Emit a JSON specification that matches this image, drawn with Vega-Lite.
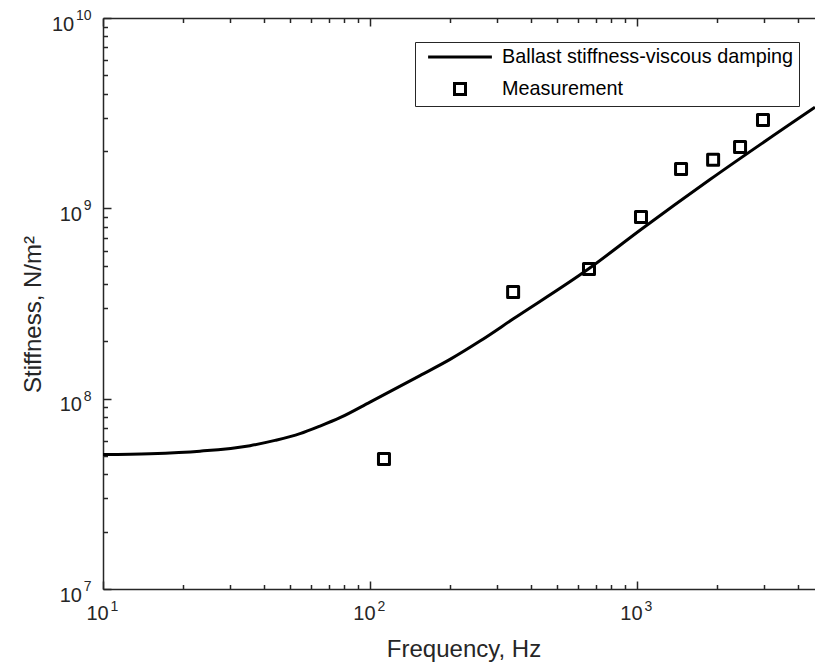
{
  "$schema": "https://vega.github.io/schema/vega-lite/v6.json",
  "width": 712,
  "height": 571,
  "autosize": {"type": "none"},
  "padding": {"left": 103, "top": 18, "right": 0, "bottom": 79},
  "background": "white",
  "config": {
    "view": {"stroke": null},
    "font": "Liberation Sans",
    "axis": {
      "domainColor": "#262626",
      "domainWidth": 1.5,
      "tickColor": "#262626",
      "tickWidth": 1.5,
      "labelColor": "#262626",
      "labelFont": "Liberation Sans",
      "labelFontSize": 20,
      "titleFont": "Liberation Sans",
      "titleFontSize": 24,
      "titleFontWeight": "normal",
      "titleColor": "#262626",
      "grid": false,
      "labelFlush": false,
      "labelOverlap": false
    }
  },
  "datasets": {
    "model": [
      {"f": 10, "k": 5.085e7},
      {"f": 15.0, "k": 5.141e7},
      {"f": 23.08, "k": 5.299e7},
      {"f": 35.53, "k": 5.662e7},
      {"f": 44.08, "k": 6.036e7},
      {"f": 54.68, "k": 6.548e7},
      {"f": 64.98, "k": 7.179e7},
      {"f": 77.2, "k": 7.946e7},
      {"f": 100, "k": 9.597e7},
      {"f": 153.9, "k": 1.3224e8},
      {"f": 199.4, "k": 1.6086e8},
      {"f": 258.2, "k": 2.0078e8},
      {"f": 343.2, "k": 2.62e8},
      {"f": 661.3, "k": 4.827e8},
      {"f": 1035.1, "k": 7.739e8},
      {"f": 1876.6, "k": 1.417e9},
      {"f": 4641.6, "k": 3.399e9}
    ],
    "meas": [
      {"f": 112.8, "k": 4.82e7},
      {"f": 343.6, "k": 3.63e8},
      {"f": 661, "k": 4.8e8},
      {"f": 1035, "k": 9.0e8},
      {"f": 1462, "k": 1.61e9},
      {"f": 1928, "k": 1.8e9},
      {"f": 2432, "k": 2.1e9},
      {"f": 2964, "k": 2.91e9}
    ]
  },
  "resolve": {"axis": {"x": "independent", "y": "independent"}},
  "layer": [
    {
      "data": {"name": "model"},
      "mark": {"type": "line", "color": "black", "strokeWidth": 3, "clip": true, "interpolate": "monotone"},
      "encoding": {
        "x": {
          "field": "f",
          "type": "quantitative",
          "scale": {"type": "log", "domain": [10, 4641.6], "nice": false},
          "axis": {
            "orient": "bottom",
            "title": "Frequency, Hz",
            "titleX": 360.5,
            "titleY": 67,
            "titleBaseline": "alphabetic",
            "labelBaseline": "alphabetic",
            "labelAlign": "center",
            "labelOffset": -6,
            "labelPadding": 38,
            "labelExpr": "abs(log(datum.value)/LN10 - round(log(datum.value)/LN10)) < 0.001 ? '10' : ''",
            "tickSize": {"condition": {"test": "abs(log(datum.value)/LN10 - round(log(datum.value)/LN10)) < 0.001", "value": -8}, "value": -4.5}
          }
        },
        "y": {
          "field": "k",
          "type": "quantitative",
          "scale": {"type": "log", "domain": [10000000, 10000000000], "nice": false},
          "axis": {
            "orient": "left",
            "title": "Stiffness, N/m²",
            "titleY": 296,
            "titleX": -58,
            "titleBaseline": "bottom",
            "labelAlign": "right",
            "labelBaseline": "alphabetic",
            "labelOffset": 12,
            "labelPadding": {"condition": {"test": "datum.value > 5000000000", "value": 37.3}, "value": 29.5},
            "labelExpr": "abs(log(datum.value)/LN10 - round(log(datum.value)/LN10)) < 0.001 ? '10' : ''",
            "tickSize": {"condition": {"test": "abs(log(datum.value)/LN10 - round(log(datum.value)/LN10)) < 0.001", "value": -8}, "value": -4.5}
          }
        }
      }
    },
    {
      "data": {"name": "meas"},
      "mark": {"type": "point", "filled": false, "color": "black", "strokeWidth": 3, "size": 121, "opacity": 1, "strokeJoin": "round"},
      "encoding": {
        "x": {
          "field": "f",
          "type": "quantitative",
          "axis": {
            "orient": "top",
            "labels": false,
            "title": null,
            "tickSize": {"condition": {"test": "abs(log(datum.value)/LN10 - round(log(datum.value)/LN10)) < 0.001", "value": -8}, "value": -4.5}
          }
        },
        "y": {
          "field": "k",
          "type": "quantitative",
          "axis": {
            "orient": "left",
            "title": null,
            "domain": false,
            "ticks": false,
            "labelFontSize": 14,
            "labelAlign": "right",
            "labelBaseline": "alphabetic",
            "labelOffset": 1.5,
            "labelPadding": 12,
            "labelExpr": "abs(log(datum.value)/LN10 - round(log(datum.value)/LN10)) < 0.001 ? '' + round(log(datum.value)/LN10) : ''"
          }
        },
        "shape": {
          "datum": "Measurement",
          "scale": {"domain": ["Ballast stiffness-viscous damping", "Measurement"], "range": ["M-5.8,0H5.8", "square"]},
          "legend": {
            "orient": "none",
            "legendX": 312,
            "legendY": 24,
            "title": null,
            "padding": 5,
            "strokeColor": "#262626",
            "fillColor": "white",
            "labelFont": "Liberation Sans",
            "labelFontSize": 19.8,
            "labelColor": "black",
            "labelLimit": 400,
            "labelOffset": 32.2,
            "symbolOffset": 30.1,
            "rowPadding": 10,
            "symbolSize": 121,
            "symbolStrokeWidth": 3,
            "symbolStrokeColor": "black",
            "symbolFillColor": "transparent"
          }
        }
      }
    },
    {
      "data": {"name": "meas"},
      "mark": {"type": "point", "opacity": 0},
      "encoding": {
        "x": {
          "field": "f",
          "type": "quantitative",
          "axis": {
            "orient": "bottom",
            "title": null,
            "domain": false,
            "ticks": false,
            "labelFontSize": 14,
            "labelAlign": "left",
            "labelBaseline": "alphabetic",
            "labelOffset": 7,
            "labelPadding": 21,
            "labelExpr": "abs(log(datum.value)/LN10 - round(log(datum.value)/LN10)) < 0.001 ? '' + round(log(datum.value)/LN10) : ''"
          }
        },
        "y": {"field": "k", "type": "quantitative", "axis": null}
      }
    }
  ]
}
